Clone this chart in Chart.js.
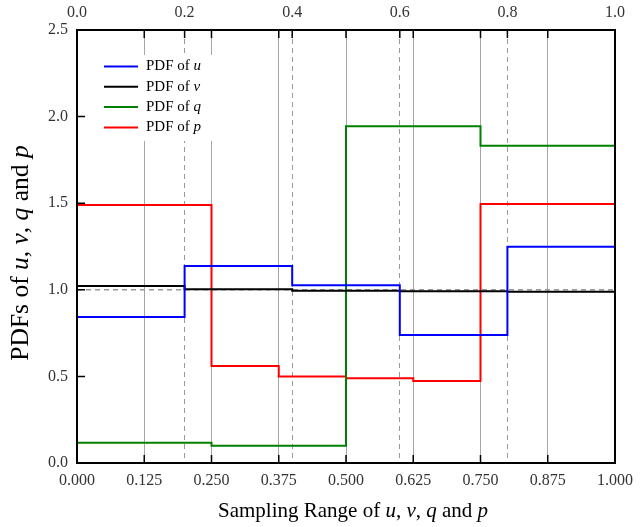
<!DOCTYPE html>
<html>
<head>
<meta charset="utf-8">
<script src="https://cdn.jsdelivr.net/npm/chart.js@4/dist/chart.umd.min.js"></script>
<style>
  body { margin: 0; background: #fff; }
  #wrap { width: 644px; height: 527px; }
</style>
</head>
<body>
<div id="wrap"><canvas id="myChart" width="644" height="527"></canvas></div>
<script>
// Step boundaries and PDF levels for each variable
let edgesUV = [0, 0.2, 0.4, 0.6, 0.8, 1.0];
let pdfU = [0.843, 1.137, 1.026, 0.739, 1.249];
let pdfV = [1.022, 1.003, 0.995, 0.991, 0.989];

let edgesQ = [0, 0.25, 0.5, 0.75, 1.0];
let pdfQ = [0.117, 0.100, 1.944, 1.832];

let edgesP = [0, 0.25, 0.375, 0.5, 0.625, 0.75, 1.0];
let pdfP = [1.49, 0.56, 0.50, 0.489, 0.473, 1.496];

// Tick settings
let bottomStep = 0.125;
let topStep = 0.2;
let yStep = 0.5;
let yMax = 2.5;

let serif = "'Liberation Serif', 'Times New Roman', serif";

// turn edges + levels into points; each level holds until the next edge
function steps(edges, levels) {
  let pts = [];
  for (let i = 0; i < levels.length; i++) {
    pts.push({ x: edges[i], y: levels[i] });
  }
  pts.push({ x: edges[edges.length - 1], y: levels[levels.length - 1] });
  return pts;
}

let series = [
  { name: "u", color: "#0000ff", data: steps(edgesUV, pdfU) },
  { name: "v", color: "#000000", data: steps(edgesUV, pdfV) },
  { name: "q", color: "#008000", data: steps(edgesQ, pdfQ) },
  { name: "p", color: "#ff0000", data: steps(edgesP, pdfP) }
];

// draw text pieces in a row, some of them italic
function drawParts(ctx, parts, x, y, size) {
  let total = 0;
  parts.forEach(p => {
    ctx.font = (p.it ? "italic " : "") + size + "px " + serif;
    p.w = ctx.measureText(p.t).width;
    total += p.w;
  });
  let cx = x - total / 2;
  parts.forEach(p => {
    ctx.font = (p.it ? "italic " : "") + size + "px " + serif;
    ctx.fillText(p.t, cx, y);
    cx += p.w;
  });
}

let titleParts = [
  { t: "of " }, { t: "u", it: true }, { t: ", " }, { t: "v", it: true }, { t: ", " },
  { t: "q", it: true }, { t: " and " }, { t: "p", it: true }
];

// frame, inward ticks, legend and axis titles
let decor = {
  id: "decor",
  afterDraw(chart) {
    let ctx = chart.ctx;
    let a = chart.chartArea;
    let sx = chart.scales.x, sx2 = chart.scales.x2, sy = chart.scales.y;
    ctx.save();

    // inward tick marks
    ctx.strokeStyle = "#000";
    ctx.lineWidth = 1.5;
    ctx.beginPath();
    sx.ticks.forEach(t => {
      let px = sx.getPixelForValue(t.value);
      ctx.moveTo(px, a.bottom); ctx.lineTo(px, a.bottom - 8);
      ctx.moveTo(px, a.top); ctx.lineTo(px, a.top + 8);
    });
    sx2.ticks.forEach(t => {
      let px = sx2.getPixelForValue(t.value);
      ctx.moveTo(px, a.top); ctx.lineTo(px, a.top + 8);
    });
    sy.ticks.forEach(t => {
      let py = sy.getPixelForValue(t.value);
      ctx.moveTo(a.left, py); ctx.lineTo(a.left + 8, py);
    });
    ctx.stroke();

    // frame
    ctx.lineWidth = 2;
    ctx.strokeRect(a.left, a.top, a.right - a.left, a.bottom - a.top);

    // legend
    ctx.fillStyle = "#fff";
    ctx.fillRect(a.left + 20, a.top + 25, 120, 86);
    ctx.textBaseline = "middle";
    ctx.textAlign = "left";
    series.forEach((s, i) => {
      let ly = a.top + 36.5 + i * 20.3;
      ctx.strokeStyle = s.color;
      ctx.lineWidth = 2;
      ctx.beginPath();
      ctx.moveTo(a.left + 27, ly); ctx.lineTo(a.left + 61, ly);
      ctx.stroke();
      ctx.fillStyle = "#000";
      ctx.font = "15px " + serif;
      ctx.fillText("PDF of ", a.left + 69, ly);
      let w = ctx.measureText("PDF of ").width;
      ctx.font = "italic 15px " + serif;
      ctx.fillText(s.name, a.left + 69 + w, ly);
    });

    // axis titles
    ctx.fillStyle = "#000";
    ctx.textAlign = "left";
    ctx.textBaseline = "alphabetic";
    drawParts(ctx, [{ t: "Sampling Range " }].concat(titleParts), (a.left + a.right) / 2 + 7, 517, 21);
    ctx.translate(28, 253);
    ctx.rotate(-Math.PI / 2);
    drawParts(ctx, [{ t: "PDFs " }].concat(titleParts), 0, 0, 25.5);
    ctx.restore();
  }
};

let tickFont = { family: serif, size: 16 };

let ctx = document.getElementById("myChart").getContext("2d");
let myChart = new Chart(ctx, {
  type: "line",
  data: {
    datasets: series.map(s => ({
      label: "PDF of " + s.name,
      data: s.data,
      borderColor: s.color,
      borderWidth: 2,
      pointRadius: 0,
      stepped: "before",
      fill: false
    }))
  },
  options: {
    responsive: false,
    animation: false,
    layout: { padding: { left: 0, right: 29, top: 0, bottom: 0 } },
    plugins: { legend: { display: false }, tooltip: { enabled: false } },
    scales: {
      x: {
        type: "linear",
        position: "bottom",
        min: 0, max: 1,
        afterFit: s => { s.height = 64; },
        ticks: { stepSize: bottomStep, callback: v => v.toFixed(3), font: tickFont, color: "#333", padding: 8, maxRotation: 0, autoSkip: false },
        grid: { color: "#a6a6a6", lineWidth: 1, drawTicks: false },
        border: { display: false }
      },
      x2: {
        type: "linear",
        position: "top",
        min: 0, max: 1,
        afterFit: s => { s.height = 30; },
        ticks: { stepSize: topStep, callback: v => v.toFixed(1), font: tickFont, color: "#333", padding: 8, maxRotation: 0, autoSkip: false },
        grid: { color: "#999", lineWidth: 1, drawTicks: false },
        border: { display: false, dash: [5, 4] }
      },
      y: {
        min: 0, max: yMax,
        afterFit: s => { s.width = 77; },
        ticks: { stepSize: yStep, callback: v => v.toFixed(1), font: tickFont, color: "#333", padding: 9 },
        grid: { color: c => (c.tick && c.tick.value === 1 ? "#999" : "rgba(0,0,0,0)"), lineWidth: 1.5, drawTicks: false },
        border: { display: false, dash: [5, 4] }
      }
    }
  },
  plugins: [decor]
});
</script>
</body>
</html>
